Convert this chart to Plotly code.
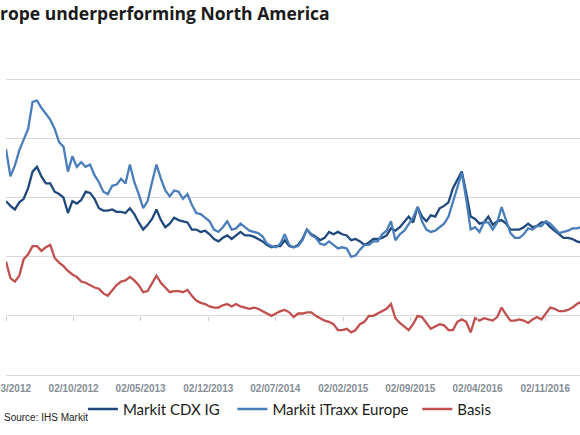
import pandas as pd
import plotly.graph_objects as go

# Biweekly readings (bp) from 02/03/2012
START = "2012-03-02"

cdx_ig = [
    97, 93, 90, 96, 99, 108, 122, 126, 118, 112, 112, 105, 103, 100, 87, 97,
    95, 98, 105, 104, 99, 91, 89, 89, 90, 88, 88, 87, 91, 86, 79, 73, 77,
    82, 90, 81, 75, 78, 83, 81, 80, 79, 73, 73, 71, 72, 69, 65, 63, 66, 68,
    65, 68, 71, 68, 68, 67, 65, 63, 60, 58, 59, 59, 64, 59, 58,
    60, 65, 73, 69, 67, 64, 66, 71, 69, 71, 69, 68, 64, 65, 63, 60, 62, 65,
    65, 66, 68, 74, 72, 75, 80, 84, 79, 92, 84, 80, 85,
    84, 91, 93, 96, 108, 115, 122, 104, 84, 82, 78, 79, 84, 77, 80, 81, 78,
    73, 73, 73, 75, 78, 75, 76, 79, 79, 75, 72, 69, 66, 66, 65, 63, 62,
]

itraxx_europe = [
    141, 118, 127, 140, 149, 158, 181, 182, 176, 171, 166, 158, 147, 143, 122,
    135, 126, 130, 126, 128, 119, 113, 105, 103, 110, 111, 116, 112, 128, 113,
    103, 91, 97,
    113, 128, 116, 106, 101, 106, 105, 99, 103, 94, 87, 86, 83, 80, 73, 71, 75,
    80, 73, 74, 78, 75, 72, 71, 70, 67, 61, 59, 58, 61, 69, 60, 58,
    59, 64, 73, 68, 66, 61, 60, 63, 60, 57, 58, 57, 50, 51, 56, 60, 60, 63, 63,
    69, 72, 80, 64, 69, 72, 77, 83, 92, 80, 73, 71,
    72, 75, 78, 84, 97, 110, 121, 99, 73, 75, 71, 79, 79, 73, 79, 92, 80, 70,
    66, 66, 69, 74, 73, 76, 76, 80, 78, 74, 70, 71, 72, 74, 74, 75,
]

basis = [
    46, 32, 29, 34, 48, 52, 59, 59, 55, 58, 60, 49, 45, 42, 38, 35, 33, 29, 28,
    26, 24, 23, 19, 17, 22, 26, 29, 30, 33, 30, 26, 20, 21,
    27, 34, 28, 24, 20, 21, 21, 20, 22, 17, 13, 11, 10, 8, 7, 7, 9, 10, 8, 10,
    8, 7, 6, 7, 6, 4, 2, 0, 2, 4, 5, 3, -1,
    2, 2, 3, 3, 0, -2, -4, -5, -7, -12, -12, -11, -14, -12, -7, -5, 0, 0, 2, 4,
    6, 10, -2, -6, -9, -12, -7, 0, -1, -6, -11,
    -9, -7, -8, -12, -12, -5, -3, -5, -14, -2, -4, -2, -3, -4, -1, 7, 1, -4,
    -4, -3, -4, -6, -3, -1, -3, 2, 7, 6, 4, 4, 5, 7, 10, 12,
]

dates = pd.date_range(START, periods=len(cdx_ig), freq="14D")

tick_dates = [
    "2012-03-02", "2012-10-02", "2013-05-02", "2013-12-02", "2014-07-02",
    "2015-02-02", "2015-09-02", "2016-04-02", "2016-11-02",
]
tick_text = [
    "02/03/2012", "02/10/2012", "02/05/2013", "02/12/2013", "02/07/2014",
    "02/02/2015", "02/09/2015", "02/04/2016", "02/11/2016",
]

GRID = "#d9d9d9"
NB = "\u00a0"

fig = go.Figure()
fig.add_trace(go.Scatter(
    x=dates, y=cdx_ig, mode="lines", name="Markit CDX IG" + NB * 2,
    line=dict(color="#1F497D", width=2.3),
))
fig.add_trace(go.Scatter(
    x=dates, y=itraxx_europe, mode="lines", name="Markit iTraxx Europe" + NB,
    line=dict(color="#4A7EBB", width=2.3),
))
fig.add_trace(go.Scatter(
    x=dates, y=basis, mode="lines", name="Basis", xaxis="x2",
    line=dict(color="#C0504D", width=2.3),
))

fig.add_annotation(
    text="Source: IHS Markit", xref="paper", yref="paper",
    x=-0.007, y=-0.141, xanchor="left", yanchor="middle", showarrow=False,
    font=dict(family="Liberation Sans", size=10, color="#222222"),
)

fig.update_layout(
    width=580, height=435,
    margin=dict(l=6, r=0, t=77, b=60, autoexpand=False),
    paper_bgcolor="white", plot_bgcolor="white",
    title=dict(
        text="rope underperforming North America",
        xref="container", x=0, xanchor="left",
        yref="container", y=1 - 14 / 435, yanchor="middle",
        font=dict(family="Open Sans", size=17.5, color="#1a1a1a", weight=700),
    ),
    xaxis=dict(
        range=["2012-03-02", "2017-02-20"],
        tickvals=tick_dates, ticktext=tick_text,
        showgrid=False, ticks="", showline=True, linecolor=GRID,
        tickfont=dict(family="Liberation Sans", size=10, color="#868d96",
                      weight="bold"),
        ticklabelstandoff=4, ticklabeloverflow="allow", automargin=False,
    ),
    xaxis2=dict(
        matches="x", overlaying="x", anchor="free", position=50 / 252,
        tickvals=tick_dates, showticklabels=False, showgrid=False,
        ticks="outside", ticklen=4, tickcolor="#cccccc", showline=False,
        automargin=False,
    ),
    yaxis=dict(
        range=[-50, 202], tick0=0, dtick=50, showticklabels=False,
        gridcolor=GRID, gridwidth=1, zeroline=False, automargin=False,
    ),
    legend=dict(
        orientation="h", x=0.134, xanchor="left", y=-0.115, yanchor="middle",
        font=dict(family="Lato", size=15, color="#1a1a1a"),
        itemwidth=30, bgcolor="rgba(0,0,0,0)",
    ),
)

# the page body has an 8px default margin; drop it so the chart sits at 0,0
fig.write_html(
    "out.html",
    config={"displayModeBar": False},
    post_script="document.body.style.margin='0';",
)
